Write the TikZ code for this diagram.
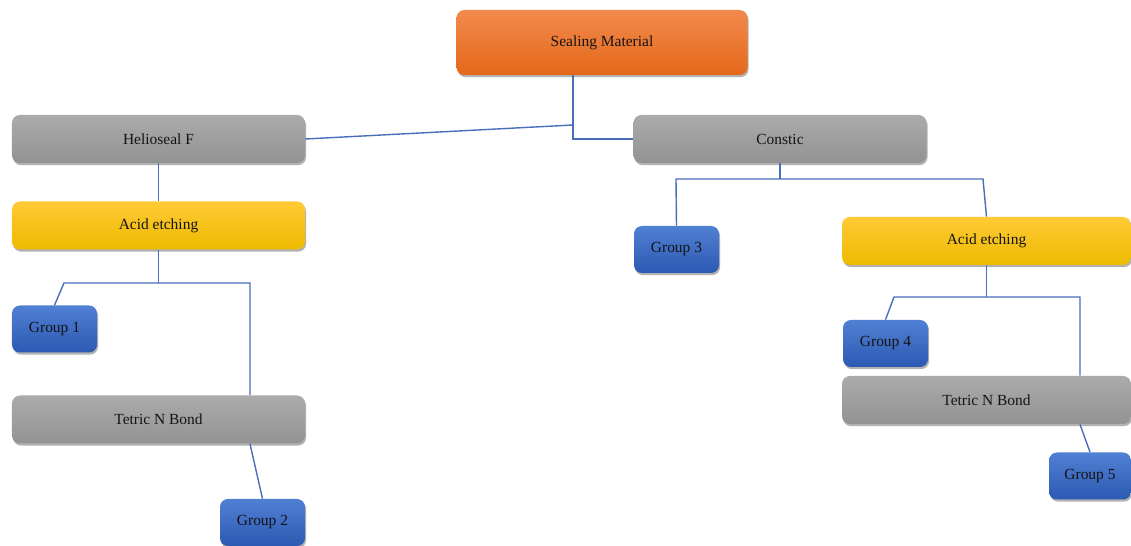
\documentclass[tikz,border=0pt]{standalone}
\usepackage{fontspec}
\setmainfont{Liberation Serif}
\usepackage{tikz}
\usetikzlibrary{positioning,shadows}

\definecolor{linkblue}{HTML}{4A6FBA}
\definecolor{orangetop}{HTML}{F28A4C}
\definecolor{orangebot}{HTML}{E4681A}
\definecolor{graytop}{HTML}{ABABAB}
\definecolor{graybot}{HTML}{939393}
\definecolor{yellowtop}{HTML}{FFCA35}
\definecolor{yellowbot}{HTML}{EDBA00}
\definecolor{bluetop}{HTML}{5080D3}
\definecolor{bluebot}{HTML}{2C59B2}

\begin{document}
\begin{tikzpicture}[box/.style={rectangle,rounded corners=4.5pt,inner sep=2pt,text=black!92,font=\fontsize{8.8}{10}\selectfont,drop shadow={shadow xshift=0.6pt,shadow yshift=-1.2pt,opacity=0.3,fill=black}},
	orangenode/.style={box,minimum width=5.82cm,minimum height=1.3cm,top color=orangetop,bottom color=orangebot},
	graynode/.style={box,minimum width=5.86cm,minimum height=0.96cm,top color=graytop,bottom color=graybot},
	yellownode/.style={box,minimum width=5.86cm,minimum height=0.96cm,top color=yellowtop,bottom color=yellowbot},
	groupnode/.style={box,minimum width=1.7cm,minimum height=0.94cm,top color=bluetop,bottom color=bluebot},
	link/.style={draw=linkblue,line width=0.8pt}]
	
	\useasboundingbox (0,0) rectangle (22.62,-10.92);
	
	\node [orangenode] (0) at (12.04, -0.85) {Sealing Material};
	\node [graynode] (1) at (3.17, -2.78) {Helioseal F};
	\node [graynode] (2) at (15.6, -2.78) {Constic};
	\node [yellownode] (3) at (3.17, -4.51) {Acid etching};
	\node [groupnode] (4) at (1.09, -6.58) {Group 1};
	\node [graynode] (5) at (3.17, -8.39) {Tetric N Bond};
	\node [groupnode] (6) at (5.25, -10.45) {Group 2};
	\node [groupnode] (7) at (13.53, -4.99) {Group 3};
	\node [yellownode,minimum width=5.78cm] (8) at (19.73, -4.82) {Acid etching};
	\node [groupnode] (9) at (17.71, -6.87) {Group 4};
	\node [graynode,minimum width=5.78cm] (10) at (19.73, -8.0) {Tetric N Bond};
	\node [groupnode,minimum width=1.64cm] (11) at (21.8, -9.52) {Group 5};
	
	\coordinate (0a) at (11.46, -2.5);
	\coordinate (0b) at (11.46, -2.78);
	\coordinate (3a) at (1.28, -5.66);
	\coordinate (3b) at (5.0, -5.66);
	\coordinate (2a) at (13.52, -3.58);
	\coordinate (2b) at (19.66, -3.58);
	\coordinate (8a) at (17.88, -5.94);
	\coordinate (8b) at (21.6, -5.94);
	
	\draw [link] (0a |- 0.south) -- (0a) -- (0b) -- (2.west);
	\draw [link] (1.east) -- (0a);
	\draw [link] (1.south) -- (3.north);
	\draw [link] (3.south) -- (3.south |- 3a);
	\draw [link] (4.north) -- (3a) -- (3b) -- (3b |- 5.north);
	\draw [link] (5.south -| 3b) -- (6.north);
	\draw [link] (2.south) -- (2.south |- 2a);
	\draw [link] (7.north) -- (2a) -- (2b) -- (8.north);
	\draw [link] (8.south) -- (8.south |- 8a);
	\draw [link] (9.north) -- (8a) -- (8b) -- (8b |- 10.north);
	\draw [link] (10.south -| 8b) -- (11.north);
\end{tikzpicture}
\end{document}
